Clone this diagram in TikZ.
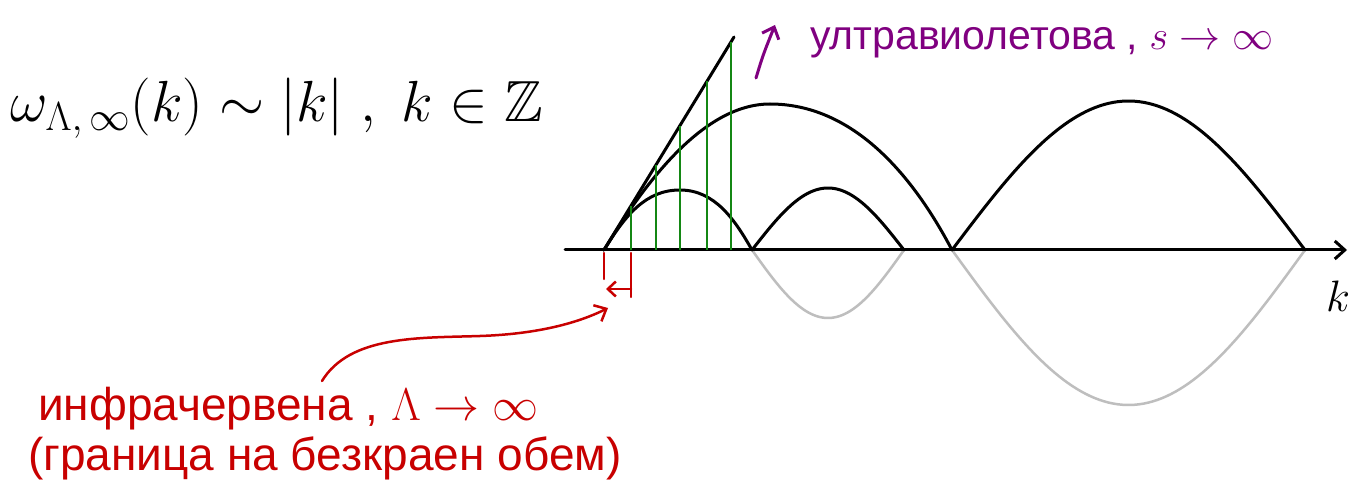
\RequirePackage{fix-cm}
\documentclass[tikz,border=0pt]{standalone}
\usepackage{amssymb}
\usepackage{fontspec}
\setmainfont{Liberation Sans}
\usetikzlibrary{arrows.meta}
\definecolor{inkred}{RGB}{200,0,0}
\definecolor{inkpurple}{RGB}{128,0,128}
\definecolor{inkgreen}{RGB}{20,135,20}
\definecolor{inkgray}{RGB}{190,190,190}
\begin{document}
\begin{tikzpicture}[x=1pt,y=-1pt,
  curve/.style={line width=3pt,line cap=round,line join=round},
  ghost/.style={inkgray,line width=2.5pt,line cap=round},
  sample/.style={inkgreen,line width=2pt},
  redink/.style={inkred,line width=2.5pt,line cap=round},
  purpleink/.style={inkpurple,line width=3pt,line cap=round},
  barb/.style={-{Straight Barb[length=10pt,width=18pt]}},
  label/.style={inner sep=0pt,anchor=base west}]
\fill[white] (0,0) rectangle (1349,494);
\useasboundingbox (0,0) rectangle (1349,494);

% key points
\coordinate (O) at (604,250);
\coordinate (A) at (752,250);
\coordinate (B) at (904,250);
\coordinate (C) at (952,250);
\coordinate (D) at (1305,250);
\coordinate (axL) at (565,250);
\coordinate (axR) at (1347,250);
\coordinate (lineTop) at (734,37);

% gray mirrored arcs
\draw[ghost] plot[domain=0:180,samples=60,variable=\t] ({752+0.84444*\t},{250+68*sin(\t)});
\draw[ghost] plot[domain=0:180,samples=80,variable=\t] ({952+1.96111*\t},{250+155*sin(\t)});

% axis
\draw[curve,barb] (axL) -- (axR);

% line and arcs
\draw[curve] (O) -- (lineTop);
\draw[curve] (O) .. controls (625,216) and (645,190) .. (680,190) .. controls (715,190) and (735,220) .. (A);
\draw[curve] (O) .. controls (640,191) and (700,104) .. (770,104) .. controls (850,104) and (910,170) .. (C);
\draw[curve] plot[domain=0:180,samples=60,variable=\t] ({752+0.84444*\t},{250-62*sin(\t)});
\draw[curve] plot[domain=0:180,samples=80,variable=\t] ({952+1.96111*\t},{250-149*sin(\t)});

% green samples
\foreach \x in {631,656,680,707,731}
  \draw[sample] (\x,250) -- (\x,{250-(\x-604)*1.638});

% red markers
\coordinate (r1a) at (604,253); \coordinate (r1b) at (604,279);
\coordinate (r2a) at (631,253); \coordinate (r2b) at (631,297);
\coordinate (raR) at (631,289); \coordinate (raL) at (606,289);
\draw[redink] (r1a) -- (r1b);
\draw[redink] (r2a) -- (r2b);
\draw[redink,-{Straight Barb[length=8pt,width=15pt]}] (raR) -- (raL);

% texts
\node[label,font=\fontsize{58}{64}\selectfont] (law) at (10,122)
  {$\omega_{\Lambda,\,\infty}(k)\sim|k|\;,\;k\in\mathbb{Z}$};
\node[label,font=\fontsize{41}{46}\selectfont,text=inkpurple] (uv) at (810,50)
  {ултравиолетова , $s\to\infty$};
\node[font=\fontsize{44}{50}\selectfont] (klabel) at (1338,296) {$k$};
\node[label,font=\fontsize{46}{52}\selectfont,text=inkred] (ir1) at (38,420)
  {инфрачервена , $\Lambda\to\infty$};
\node[label,font=\fontsize{46}{52}\selectfont,text=inkred] (ir2) at (28,470)
  {(граница на безкраен обем)};

% purple arrow
\coordinate (uvFoot) at (756,78);
\coordinate (uvTip) at (775,25);
\draw[purpleink,barb] (uvFoot) .. controls (763,55) .. (uvTip);

% red curved arrow
\coordinate (irStart) at (322,381);
\coordinate (irTip) at (608,308);
\draw[redink,barb] (irStart) .. controls (350,335) and (420,338) .. (480,336) .. controls (540,334) and (580,322) .. (irTip);
\end{tikzpicture}
\end{document}
